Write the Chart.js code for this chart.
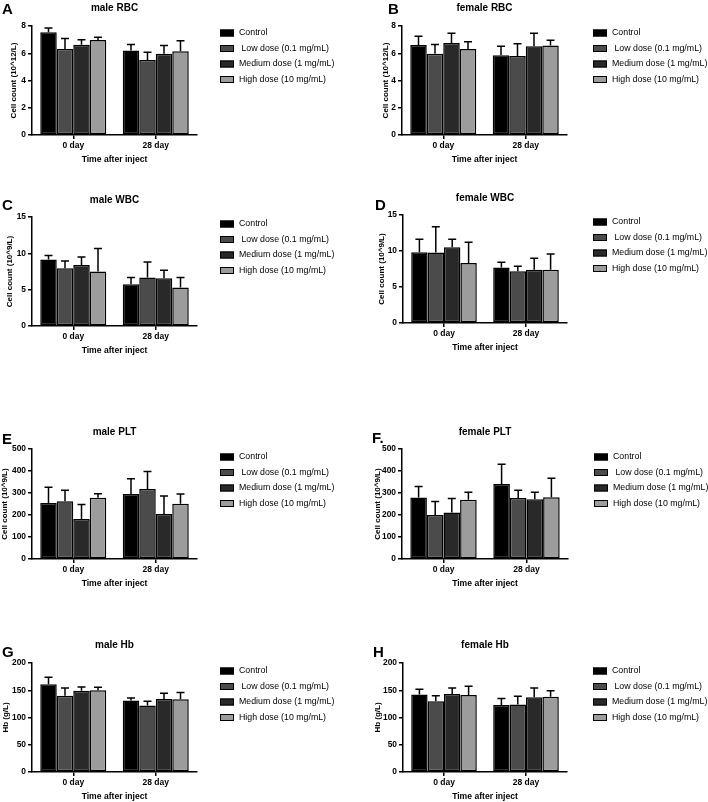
<!DOCTYPE html>
<html><head><meta charset="utf-8">
<script src="https://cdn.jsdelivr.net/npm/chart.js@4.4.1/dist/chart.umd.min.js"></script>
<style>
html,body{margin:0;padding:0;background:#fff;}
#wrap{position:relative;width:708px;height:802px;overflow:hidden;background:#fff;}
canvas{position:absolute;}
.letter{position:absolute;font:bold 15px 'Liberation Sans',Arial,sans-serif;line-height:15px;color:#000;}
</style></head>
<body><div id="wrap"></div>
<script>
// ---- data ----
const categories = ['0 day', '28 day'];
const seriesLabels = ['Control', ' Low dose (0.1 mg/mL)', 'Medium dose (1 mg/mL)', 'High dose (10 mg/mL)'];
const xTitle = 'Time after inject';

// rows: Control, Low, Medium, High ; columns: 0 day, 28 day
const maleRBCMean   = [[7.54, 6.21], [6.31, 5.50], [6.63, 5.97], [6.97, 6.14]];
const maleRBCErr    = [[0.31, 0.44], [0.78, 0.57], [0.37, 0.59], [0.20, 0.78]];
const femaleRBCMean = [[6.61, 5.85], [5.97, 5.80], [6.75, 6.51], [6.31, 6.56]];
const femaleRBCErr  = [[0.63, 0.66], [0.68, 0.90], [0.71, 0.95], [0.54, 0.39]];
const maleWBCMean   = [[9.15, 5.76], [7.96, 6.68], [8.41, 6.58], [7.50, 5.30]];
const maleWBCErr    = [[0.55, 0.92], [1.00, 2.14], [1.10, 1.10], [3.15, 1.37]];
const femaleWBCMean = [[9.83, 7.71], [9.78, 7.20], [10.52, 7.38], [8.35, 7.38]];
const femaleWBCErr  = [[1.80, 0.74], [3.60, 0.69], [1.10, 1.62], [2.86, 2.22]];
const malePLTMean   = [[255, 295], [263, 318], [182, 205], [278, 251]];
const malePLTErr    = [[71, 70], [50, 80], [66, 81], [19, 44]];
const femalePLTMean = [[280, 341], [200, 277], [211, 272], [269, 281]];
const femalePLTErr  = [[49, 90], [61, 36], [64, 31], [34, 86]];
const maleHbMean    = [[161, 131], [140, 122], [149, 134], [150, 133.5]];
const maleHbErr     = [[13, 5], [14, 8], [7, 10.5], [5.5, 12.5]];
const femaleHbMean  = [[142, 123], [130, 124], [143, 137], [141.5, 138]];
const femaleHbErr   = [[10, 12], [10, 15], [11, 17], [16, 11]];

// ---- styles ----
const seriesColors = ['#000000', '#4b4b4b', '#292929', '#9c9c9c'];
const FONT = "'Liberation Sans', Arial, sans-serif";

const panels = [
  {letter:'A', lx:2,   ly:1,   title:'male RBC',   ytitle:'Cell count (10^12/L)', mean:maleRBCMean,   err:maleRBCErr,   yMax:8,   step:2,   cl:0,   left:32,  right:197, titleY:8,   top:26,  bottom:135, yTitleX:14,  gap:23, row:7},
  {letter:'B', lx:388, ly:1,   title:'female RBC', ytitle:'Cell count (10^12/L)', mean:femaleRBCMean, err:femaleRBCErr, yMax:8,   step:2,   cl:354, left:402, right:567, titleY:8,   top:26,  bottom:135, yTitleX:386, gap:26, row:7},
  {letter:'C', lx:2,   ly:197, title:'male WBC',   ytitle:'Cell count (10^9/L)',  mean:maleWBCMean,   err:maleWBCErr,   yMax:15,  step:5,   cl:0,   left:32,  right:197, titleY:200, top:217, bottom:326, yTitleX:10,  gap:23, row:7},
  {letter:'D', lx:375, ly:197, title:'female WBC', ytitle:'Cell count (10^9/L)',  mean:femaleWBCMean, err:femaleWBCErr, yMax:15,  step:5,   cl:354, left:403, right:567, titleY:198, top:215, bottom:323, yTitleX:382, gap:26, row:7},
  {letter:'E', lx:2,   ly:431, title:'male PLT',   ytitle:'Cell count (10^9/L)',  mean:malePLTMean,   err:malePLTErr,   yMax:500, step:100, cl:0,   left:32,  right:197, titleY:432, top:449, bottom:559, yTitleX:5,   gap:23, row:8},
  {letter:'F.',lx:372, ly:430, title:'female PLT', ytitle:'Cell count (10^9/L)',  mean:femalePLTMean, err:femalePLTErr, yMax:500, step:100, cl:354, left:402, right:568, titleY:432, top:449, bottom:559, yTitleX:378, gap:26, row:8},
  {letter:'G', lx:2,   ly:644, title:'male Hb',    ytitle:'Hb (g/L)',             mean:maleHbMean,    err:maleHbErr,    yMax:200, step:50,  cl:0,   left:32,  right:197, titleY:645, top:663, bottom:772, yTitleX:6,   gap:23, row:8},
  {letter:'H', lx:373, ly:644, title:'female Hb',  ytitle:'Hb (g/L)',             mean:femaleHbMean,  err:femaleHbErr,  yMax:200, step:50,  cl:354, left:403, right:567, titleY:645, top:663, bottom:772, yTitleX:378, gap:26, row:8}
];

const errorBarPlugin = {
  id: 'errorBars',
  afterDatasetsDraw(chart) {
    const ctx = chart.ctx, ys = chart.scales.y;
    ctx.save();
    ctx.strokeStyle = '#000';
    ctx.lineWidth = 1.5;
    chart.data.datasets.forEach((ds, i) => {
      const meta = chart.getDatasetMeta(i);
      meta.data.forEach((bar, j) => {
        const yTop = ys.getPixelForValue(ds.data[j] + ds.errors[j]);
        ctx.beginPath();
        ctx.moveTo(bar.x, bar.y);
        ctx.lineTo(bar.x, yTop);
        ctx.moveTo(bar.x - 4, yTop);
        ctx.lineTo(bar.x + 4, yTop);
        ctx.stroke();
      });
    });
    ctx.restore();
  }
};

const sideLegendPlugin = {
  id: 'sideLegend',
  afterDraw(chart, args, opts) {
    const ctx = chart.ctx, ca = chart.chartArea;
    const x0 = ca.right + opts.gap;
    ctx.save();
    ctx.font = '8.8px ' + FONT;
    ctx.textBaseline = 'middle';
    ctx.textAlign = 'left';
    chart.data.datasets.forEach((ds, i) => {
      const cy = ca.top + opts.firstRow + i * 15.5;
      ctx.fillStyle = ds.backgroundColor;
      ctx.fillRect(x0, cy - 3.5, 14, 7);
      ctx.lineWidth = 1;
      ctx.strokeStyle = '#000';
      ctx.strokeRect(x0 + 0.5, cy - 3, 13, 6);
      ctx.fillStyle = '#000';
      ctx.fillText(ds.label, x0 + 19, cy);
    });
    ctx.restore();
  }
};

const wrap = document.getElementById('wrap');
panels.forEach(p => {
  const ctop = p.titleY - 8;
  const h = p.bottom - ctop + 31;
  const cv = document.createElement('canvas');
  cv.width = 354; cv.height = h;
  cv.style.left = p.cl + 'px'; cv.style.top = ctop + 'px';
  cv.style.width = '354px'; cv.style.height = h + 'px';
  wrap.appendChild(cv);

  const lt = document.createElement('div');
  lt.className = 'letter';
  lt.style.left = p.lx + 'px'; lt.style.top = p.ly + 'px';
  lt.textContent = p.letter;
  wrap.appendChild(lt);

  new Chart(cv.getContext('2d'), {
    type: 'bar',
    data: {
      labels: categories,
      datasets: seriesLabels.map((lab, i) => ({
        label: lab,
        data: p.mean[i],
        errors: p.err[i],
        backgroundColor: seriesColors[i],
        borderColor: '#000',
        borderWidth: 1.5,
        borderSkipped: false,
        categoryPercentage: 0.8,
        barPercentage: 1.0
      }))
    },
    options: {
      responsive: false,
      animation: false,
      devicePixelRatio: 1,
      layout: {padding: {top: 1, left: 0, right: p.cl + 354 - p.right, bottom: 0}},
      plugins: {
        legend: {display: false},
        tooltip: {enabled: false},
        title: {
          display: true, text: p.title, color: '#000', fullSize: false,
          font: {family: FONT, size: 10, weight: 'bold', lineHeight: '14px'},
          padding: {top: 0, bottom: p.top - p.titleY - 7}
        },
        sideLegend: {gap: p.gap, firstRow: p.row}
      },
      scales: {
        x: {
          offset: true,
          grid: {display: true, drawOnChartArea: false, drawTicks: true, tickLength: 4, color: '#000', lineWidth: 1.5, offset: false},
          border: {display: true, color: '#000', width: 1.5},
          ticks: {color: '#000', font: {family: FONT, size: 8.5, weight: 'bold'}, padding: 2, maxRotation: 0},
          title: {display: true, text: xTitle, color: '#000', font: {family: FONT, size: 8.6, weight: 'bold', lineHeight: '12px'}, padding: 0},
          afterFit(s) { s.height = 31; }
        },
        y: {
          min: 0, max: p.yMax,
          ticks: {stepSize: p.step, color: '#000', font: {family: FONT, size: 8.4, weight: 'bold'}, padding: 2},
          grid: {display: true, drawOnChartArea: false, drawTicks: true, tickLength: 4, color: '#000', lineWidth: 1.5},
          border: {display: true, color: '#000', width: 1.5},
          title: {display: true, text: p.ytitle, color: '#000', font: {family: FONT, size: 8, weight: 'bold', lineHeight: '10px'}, padding: {top: p.yTitleX - p.cl - 5, bottom: 0}},
          afterFit(s) { s.width = p.left - p.cl; }
        }
      }
    },
    plugins: [errorBarPlugin, sideLegendPlugin]
  });
});
</script>
</body></html>
